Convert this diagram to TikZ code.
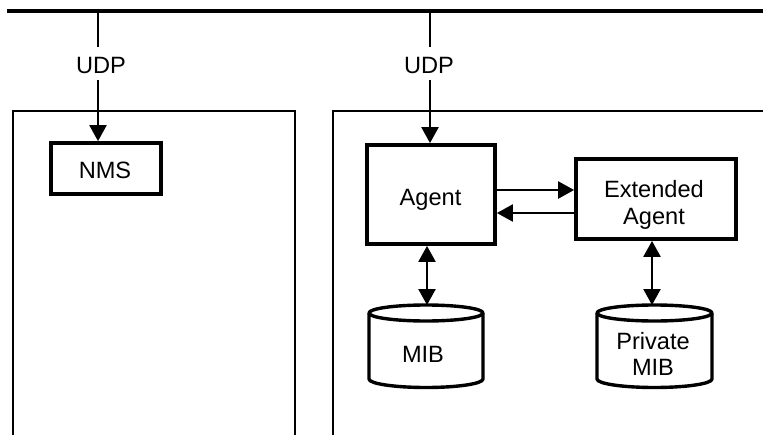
\documentclass[tikz,border=0pt]{standalone}
\usepackage{fontspec}
\setmainfont{Liberation Sans}
\usetikzlibrary{arrows.meta}
\begin{document}
\begin{tikzpicture}[x=1pt,y=-1pt,
  box/.style={draw, line width=3.8pt, inner sep=0pt},
  wire/.style={line width=2.4pt},
  tip/.tip={Triangle[length=16pt,width=17pt]},
  arr/.style={wire, -tip},
  darr/.style={wire, tip-tip},
  lbl/.style={inner sep=0pt, align=center, font=\fontsize{23.6}{27.5}\selectfont},
  db/.style={line width=3.4pt, line join=round}]
\useasboundingbox (0,0) rectangle (763,434);

% bus
\coordinate (busW) at (7,11);
\coordinate (busE) at (770,11);
\draw[line width=4.5pt] (busW) -- (busE);

% containers
\draw[wire] (13,445) -- (13,111) -- (295,111) -- (295,445);
\draw[wire] (333,445) -- (333,111) -- (775,111);

% boxes
\node[box, minimum width=110pt, minimum height=51pt] (nms) at (106,168.5) {};
\node[lbl] (nmsl) at (105,170) {NMS};
\node[box, minimum width=128pt, minimum height=99pt] (agent) at (431,194.5) {};
\node[lbl] (agentl) at (430.5,199.5) {Agent};
\node[box, minimum width=160pt, minimum height=80pt] (ext) at (656,199) {};
\node[lbl] (extl) at (654,205) {Extended\\Agent};

% UDP links
\coordinate (busL) at (98,11);
\node[lbl] (udpL) at (101,65) {UDP};
\draw[wire, shorten >=10pt] (busL) -- (busL |- udpL.north);
\draw[arr, shorten <=6.5pt] (udpL.south -| busL) -- (nms.north -| busL);

\coordinate (busR) at (430,11);
\node[lbl] (udpR) at (429,65) {UDP};
\draw[wire, shorten >=10pt] (busR) -- (busR |- udpR.north);
\draw[arr, shorten <=6.5pt] (udpR.south -| busR) -- (agent.north -| busR);

% agent <-> extended agent
\coordinate (r1) at (0,190);
\coordinate (r2) at (0,213);
\draw[arr] (agent.east |- r1) -- (ext.west |- r1);
\draw[arr] (ext.west |- r2) -- (agent.east |- r2);

% MIB cylinder
\draw[db] (369,313) -- (369,379) arc[start angle=180, end angle=0, x radius=57, y radius=8.5] -- (483,313);
\draw[db] (426,313) ellipse[x radius=57, y radius=8];
\node[lbl] (mib) at (423,354) {MIB};
\coordinate (mibtop) at (427,305);
\draw[darr] (agent.south -| mibtop) -- (mibtop);

% Private MIB cylinder
\draw[db] (597,313) -- (597,379) arc[start angle=180, end angle=0, x radius=57.5, y radius=8.5] -- (712,313);
\draw[db] (654.5,313) ellipse[x radius=57.5, y radius=8];
\node[lbl, font=\fontsize{23.6}{26}\selectfont] (pmib) at (653,354) {Private\\MIB};
\coordinate (pmibtop) at (652,305);
\draw[darr] (ext.south -| pmibtop) -- (pmibtop);
\end{tikzpicture}
\end{document}
